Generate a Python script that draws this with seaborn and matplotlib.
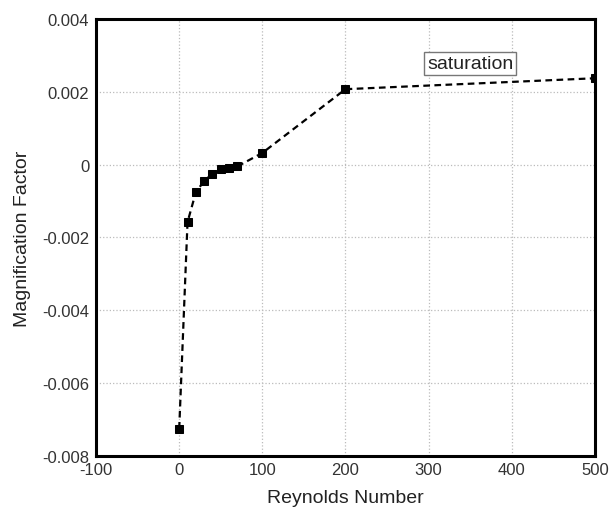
import matplotlib
matplotlib.use('Agg')
import matplotlib.pyplot as plt
from matplotlib.ticker import MultipleLocator
import seaborn as sns
import pandas as pd

# values
reynolds = [0, 10, 20, 30, 40, 50, 60, 70, 100, 200, 500]
magnification = [-0.00725, -0.00158, -0.00076, -0.00045, -0.00025, -0.000135,
                 -0.0001, -0.00005, 0.00032, 0.00207, 0.00237]
x_ticks = [-100, 0, 100, 200, 300, 400, 500]
y_ticks = [-0.008, -0.006, -0.004, -0.002, 0, 0.002, 0.004]
y_tick_labels = ['-0.008', '-0.006', '-0.004', '-0.002', '0', '0.002', '0.004']

sns.set_style('white')
plt.rcParams['font.family'] = ['Liberation Sans', 'DejaVu Sans']
plt.rcParams['axes.unicode_minus'] = False

df = pd.DataFrame({'Re': reynolds, 'MF': magnification})

fig = plt.figure(figsize=(6.12, 5.1), dpi=100)
ax = fig.add_axes([0.157, 0.104, 0.815, 0.857])

sns.lineplot(data=df, x='Re', y='MF', ax=ax, color='black', marker='s',
             markersize=6, markeredgecolor='black', linewidth=1.6,
             linestyle=(0, (3, 2)), zorder=3)

ax.set_xlim(-100, 500)
ax.set_ylim(-0.008, 0.004)
ax.set_xticks(x_ticks)
ax.set_yticks(y_ticks)
ax.set_yticklabels(y_tick_labels)
ax.xaxis.set_minor_locator(MultipleLocator(20))
ax.yaxis.set_minor_locator(MultipleLocator(0.0005))

ax.grid(True, which='major', color='#bbbbbb', linestyle=':', linewidth=0.9)
ax.tick_params(which='major', direction='in', length=8, width=2,
               labelsize=12, colors='black', labelcolor='#333333')
ax.tick_params(axis='x', which='major', pad=4)
ax.tick_params(axis='y', which='major', pad=5)
ax.tick_params(which='minor', direction='in', length=4, width=1, colors='black')
ax.tick_params(top=False, right=False)

for sp in ax.spines.values():
    sp.set_linewidth(2.2)
    sp.set_color('black')

ax.set_xlabel('Reynolds Number', fontsize=14, color='#222222', labelpad=9)
ax.set_ylabel('Magnification Factor', fontsize=14, color='#222222', labelpad=8)

ax.text(350, 0.00278, 'saturation', fontsize=14, color='#222222',
        ha='center', va='center',
        bbox=dict(boxstyle='square,pad=0.15', facecolor='white',
                  edgecolor='#777777', linewidth=1))

fig.savefig('out.png', dpi=100)
